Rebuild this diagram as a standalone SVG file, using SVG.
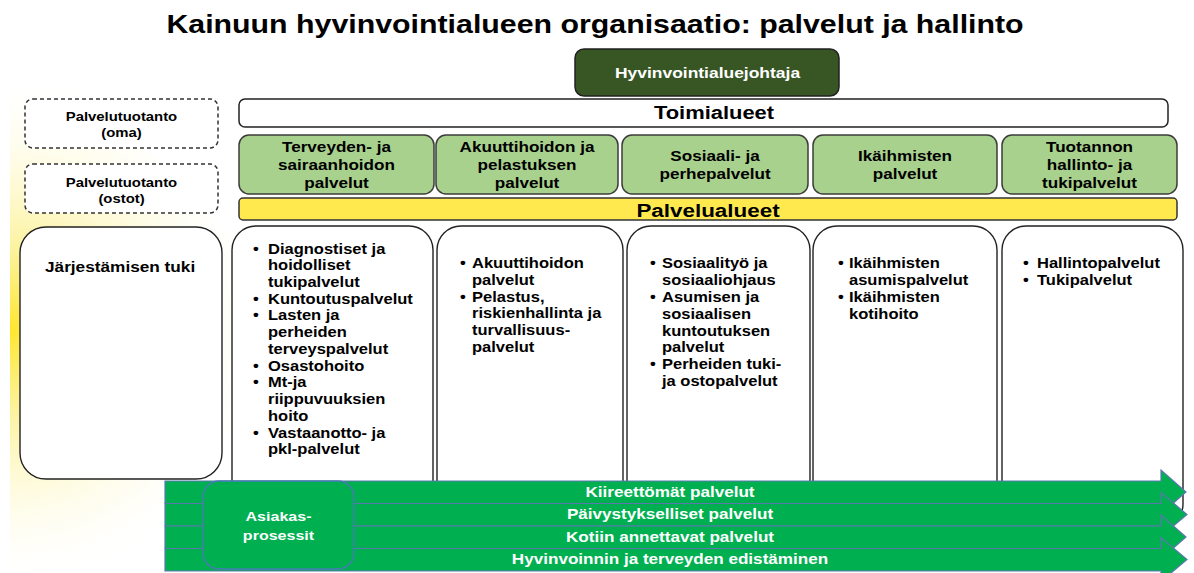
<svg xmlns="http://www.w3.org/2000/svg" width="1194" height="573" viewBox="0 0 1194 573">
<defs>
<radialGradient id="glow" cx="10" cy="330" r="250" gradientUnits="userSpaceOnUse">
<stop offset="0" stop-color="#FFE62E" stop-opacity="1"/>
<stop offset="0.3" stop-color="#FAEC6A" stop-opacity="0.7"/>
<stop offset="1" stop-color="#FFFDE8" stop-opacity="0"/>
</radialGradient>
<style>
text{font-family:"Liberation Sans",Arial,sans-serif;font-weight:bold;fill:#000}
.mid{text-anchor:middle}
.w{fill:#fff}
.dash{fill:#fff;stroke:#333;stroke-width:1.5;stroke-dasharray:4 3}
.green{fill:#A9D18E;stroke:#3C3C3C;stroke-width:1.5}
.col{fill:#fff;stroke:#222;stroke-width:1.4}
.arrow{fill:#00B050;stroke:#5B78AE;stroke-width:1.2}
.t14{font-size:14px}
.t145{font-size:14.5px}
</style>
</defs>
<rect width="1194" height="573" fill="#fff"/>
<polygon points="10,18 245,245 245,573 10,573" fill="url(#glow)"/>

<text class="mid" font-size="25.7" transform="matrix(1.18 0 0 1 595 33)">Kainuun hyvinvointialueen organisaatio: palvelut ja hallinto</text>

<g id="johtaja">
<rect x="575" y="49" width="264" height="47" rx="9" fill="#375623" stroke="#222" stroke-width="1.5"/>
<text class="mid w" font-size="14.8" transform="matrix(1.18 0 0 1 707.5 77.5)">Hyvinvointialuejohtaja</text>
</g>

<g id="toimialueet">
<rect x="239" y="99" width="929" height="28" rx="6" fill="#fff" stroke="#222" stroke-width="1.5"/>
<text class="mid" font-size="18.6" transform="matrix(1.18 0 0 1 714 119)">Toimialueet</text>
</g>

<g id="palvelutuotanto-oma">
<rect class="dash" x="25" y="99" width="193" height="49" rx="8"/>
<text class="mid" font-size="12.6" transform="matrix(1.18 0 0 1 121.5 121)"><tspan x="0">Palvelutuotanto</tspan><tspan x="0" dy="16">(oma)</tspan></text>
</g>
<g id="palvelutuotanto-ostot">
<rect class="dash" x="25" y="164" width="193" height="49" rx="8"/>
<text class="mid" font-size="12.6" transform="matrix(1.18 0 0 1 121.5 187)"><tspan x="0">Palvelutuotanto</tspan><tspan x="0" dy="16">(ostot)</tspan></text>
</g>

<g id="toimiala-terveys">
<rect class="green" x="239" y="135" width="195" height="59" rx="10"/>
<text class="mid t145" transform="matrix(1.18 0 0 1 336.5 152)"><tspan x="0">Terveyden- ja</tspan><tspan x="0" dy="18">sairaanhoidon</tspan><tspan x="0" dy="18">palvelut</tspan></text>
</g>
<g id="toimiala-akuutti">
<rect class="green" x="436" y="135" width="182" height="59" rx="10"/>
<text class="mid t145" transform="matrix(1.18 0 0 1 527 152)"><tspan x="0">Akuuttihoidon ja</tspan><tspan x="0" dy="18">pelastuksen</tspan><tspan x="0" dy="18">palvelut</tspan></text>
</g>
<g id="toimiala-sosiaali">
<rect class="green" x="622" y="135" width="186" height="59" rx="10"/>
<text class="mid t145" transform="matrix(1.18 0 0 1 715 161)"><tspan x="0">Sosiaali- ja</tspan><tspan x="0" dy="18">perhepalvelut</tspan></text>
</g>
<g id="toimiala-ikaihmiset">
<rect class="green" x="813" y="135" width="184" height="59" rx="10"/>
<text class="mid t145" transform="matrix(1.18 0 0 1 905 161)"><tspan x="0">Ikäihmisten</tspan><tspan x="0" dy="18">palvelut</tspan></text>
</g>
<g id="toimiala-tuotanto">
<rect class="green" x="1002" y="135" width="175" height="59" rx="10"/>
<text class="mid t145" transform="matrix(1.18 0 0 1 1089.5 152)"><tspan x="0">Tuotannon</tspan><tspan x="0" dy="18">hallinto- ja</tspan><tspan x="0" dy="18">tukipalvelut</tspan></text>
</g>

<g id="palvelualueet">
<rect x="239" y="198" width="938" height="22" rx="4" fill="#FFE94F" stroke="#333" stroke-width="1.5"/>
<text class="mid" font-size="19" transform="matrix(1.18 0 0 1 708 216.5)">Palvelualueet</text>
</g>

<g id="jarjestamisen-tuki">
<rect class="col" x="20" y="227" width="202" height="252" rx="26"/>
<text font-size="14.6" transform="matrix(1.18 0 0 1 45 272)">Järjestämisen tuki</text>
</g>

<g id="palvelualue-terveys">
<rect class="col" x="232" y="226" width="201" height="302" rx="24"/>
<text class="t14" transform="matrix(1.18 0 0 1 253 253.5)"><tspan x="0">•</tspan><tspan x="0" dy="50.25">•</tspan><tspan x="0" dy="16.75">•</tspan><tspan x="0" dy="50.25">•</tspan><tspan x="0" dy="16.75">•</tspan><tspan x="0" dy="50.25">•</tspan></text>
<text class="t14" transform="matrix(1.18 0 0 1 268 253.5)"><tspan x="0">Diagnostiset ja</tspan><tspan x="0" dy="16.75">hoidolliset</tspan><tspan x="0" dy="16.75">tukipalvelut</tspan><tspan x="0" dy="16.75">Kuntoutuspalvelut</tspan><tspan x="0" dy="16.75">Lasten ja</tspan><tspan x="0" dy="16.75">perheiden</tspan><tspan x="0" dy="16.75">terveyspalvelut</tspan><tspan x="0" dy="16.75">Osastohoito</tspan><tspan x="0" dy="16.75">Mt-ja</tspan><tspan x="0" dy="16.75">riippuvuuksien</tspan><tspan x="0" dy="16.75">hoito</tspan><tspan x="0" dy="16.75">Vastaanotto- ja</tspan><tspan x="0" dy="16.75">pkl-palvelut</tspan></text>
</g>
<g id="palvelualue-akuutti">
<rect class="col" x="437" y="226" width="186" height="302" rx="24"/>
<text class="t14" transform="matrix(1.18 0 0 1 460 268)"><tspan x="0">•</tspan><tspan x="0" dy="33.6">•</tspan></text>
<text class="t14" transform="matrix(1.18 0 0 1 472 268)"><tspan x="0">Akuuttihoidon</tspan><tspan x="0" dy="16.8">palvelut</tspan><tspan x="0" dy="16.8">Pelastus,</tspan><tspan x="0" dy="16.8">riskienhallinta ja</tspan><tspan x="0" dy="16.8">turvallisuus-</tspan><tspan x="0" dy="16.8">palvelut</tspan></text>
</g>
<g id="palvelualue-sosiaali">
<rect class="col" x="627" y="226" width="183" height="302" rx="24"/>
<text class="t14" transform="matrix(1.18 0 0 1 650 268)"><tspan x="0">•</tspan><tspan x="0" dy="33.8">•</tspan><tspan x="0" dy="67.6">•</tspan></text>
<text class="t14" transform="matrix(1.18 0 0 1 662 268)"><tspan x="0">Sosiaalityö ja</tspan><tspan x="0" dy="16.9">sosiaaliohjaus</tspan><tspan x="0" dy="16.9">Asumisen ja</tspan><tspan x="0" dy="16.9">sosiaalisen</tspan><tspan x="0" dy="16.9">kuntoutuksen</tspan><tspan x="0" dy="16.9">palvelut</tspan><tspan x="0" dy="16.9">Perheiden tuki-</tspan><tspan x="0" dy="16.9">ja ostopalvelut</tspan></text>
</g>
<g id="palvelualue-ikaihmiset">
<rect class="col" x="813" y="226" width="184" height="302" rx="24"/>
<text class="t14" transform="matrix(1.18 0 0 1 838 268)"><tspan x="0">•</tspan><tspan x="0" dy="33.8">•</tspan></text>
<text class="t14" transform="matrix(1.18 0 0 1 849 268)"><tspan x="0">Ikäihmisten</tspan><tspan x="0" dy="16.9">asumispalvelut</tspan><tspan x="0" dy="16.9">Ikäihmisten</tspan><tspan x="0" dy="16.9">kotihoito</tspan></text>
</g>
<g id="palvelualue-tuotanto">
<rect class="col" x="1002" y="226" width="181" height="302" rx="24"/>
<text class="t14" transform="matrix(1.18 0 0 1 1023 268)"><tspan x="0">•</tspan><tspan x="0" dy="17">•</tspan></text>
<text class="t14" transform="matrix(1.18 0 0 1 1037 268)"><tspan x="0">Hallintopalvelut</tspan><tspan x="0" dy="17">Tukipalvelut</tspan></text>
</g>

<g id="process-arrows">
<g id="arrow-kiireettomat">
<path class="arrow" d="M165,481 H1161 V470 L1186,492 L1161,514 V503.5 H165 Z"/>
<text class="mid w t145" transform="matrix(1.18 0 0 1 670 496.5)">Kiireettömät palvelut</text>
</g>
<g id="arrow-paivystykselliset">
<path class="arrow" d="M165,503.5 H1161 V492.5 L1187,514.5 L1161,536.5 V526 H165 Z"/>
<text class="mid w t145" transform="matrix(1.18 0 0 1 670 519)">Päivystykselliset palvelut</text>
</g>
<g id="arrow-kotiin">
<path class="arrow" d="M165,526 H1161 V515 L1186,537 L1161,559 V548.5 H165 Z"/>
<text class="mid w t145" transform="matrix(1.18 0 0 1 670 541.5)">Kotiin annettavat palvelut</text>
</g>
<g id="arrow-hyvinvointi">
<path class="arrow" d="M165,548.5 H1161 V537.5 L1187,559.5 L1161,581.5 V571 H165 Z"/>
<text class="mid w t145" transform="matrix(1.18 0 0 1 670 564)">Hyvinvoinnin ja terveyden edistäminen</text>
</g>
</g>

<g id="asiakasprosessit">
<rect x="203" y="481" width="151" height="88" rx="16" fill="#00B050" stroke="#4A7AB8" stroke-width="1.4"/>
<text class="mid w" font-size="13.6" transform="matrix(1.18 0 0 1 278.5 521)"><tspan x="0">Asiakas-</tspan><tspan x="0" dy="19">prosessit</tspan></text>
</g>
</svg>
